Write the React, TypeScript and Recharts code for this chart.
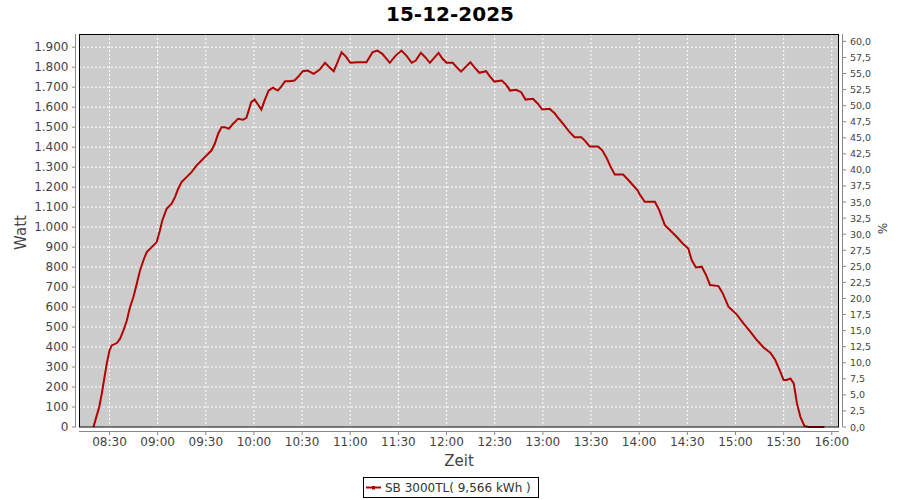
import React from "react"
import { LineChart, Line, XAxis, YAxis, CartesianGrid } from "recharts"

const title = "15-12-2025"
const seriesName = "SB 3000TL( 9,566 kWh )"

// time in minutes since midnight
const minutes = [
  500, 501.5, 503.6, 505.2, 506.9, 508.3, 510, 511.4, 514.6, 516.6, 518.7, 520.8, 522.8, 524.9, 527, 529,
  531.1, 533.2, 536.3, 539.4, 541.4, 542.9, 545.6, 548.7, 550.8, 552.8, 554.9, 558, 561.1, 564.2, 567.3,
  570.4, 573.5, 575.6, 577.7, 579.8, 581.8, 584.3, 587, 590.1, 593.2, 595.3, 596.7, 598.3, 600.4, 602.5,
  604.6, 606.6, 609.1, 611.8, 614.9, 617, 619.4, 622.1, 625.2, 627.7, 630.4, 633.5, 637.2, 640.8, 644.3,
  647, 649.7, 652.1, 654.6, 657.3, 660, 664.6, 670.1, 673.9, 676.9, 680, 684.6, 688.3, 691.9, 695, 698.3,
  700.8, 704, 706.7, 709.6, 712.3, 715, 717.5, 720, 723.8, 726.3, 729, 732.1, 734.8, 737.3, 740.4, 744.6,
  747.1, 749.8, 754.4, 757.1, 759.6, 763.3, 766.5, 769.2, 773.8, 776.9, 779.6, 784.2, 787.3, 790, 793.5,
  796.7, 799.8, 804, 806.7, 809.2, 814.4, 817.1, 819.8, 822, 824.8, 830, 833.1, 836.3, 839.4, 840, 843.5,
  849.8, 852.5, 856, 860.2, 863.8, 867.1, 870.6, 872.7, 875.4, 879, 881.7, 884.2, 889.4, 892.1, 895.6,
  900.6, 905, 909.2, 913.3, 917.5, 921.7, 924.8, 927.9, 930, 932.1, 934.2, 936.3, 938.3, 940.4, 942.9,
  945.6, 955.4,
]
const watts = [
  0, 42, 100, 167, 250, 317, 383, 408, 420, 442, 483, 533, 600, 650, 717, 783,
  833, 875, 900, 925, 983, 1033, 1092, 1117, 1150, 1192, 1225, 1250, 1275, 1308, 1333,
  1358, 1383, 1417, 1467, 1500, 1500, 1492, 1517, 1542, 1537, 1547, 1583, 1625, 1638, 1613,
  1588, 1633, 1683, 1697, 1683, 1703, 1730, 1730, 1733, 1753, 1780, 1783, 1767, 1787, 1822,
  1800, 1780, 1825, 1875, 1853, 1822, 1825, 1825, 1875, 1883, 1867, 1822, 1858, 1883, 1858, 1822,
  1833, 1872, 1850, 1822, 1847, 1872, 1842, 1822, 1822, 1800, 1778, 1803, 1825, 1800, 1772, 1780,
  1753, 1728, 1733, 1713, 1683, 1687, 1675, 1638, 1642, 1617, 1588, 1592, 1570, 1542, 1508,
  1475, 1450, 1450, 1428, 1403, 1403, 1383, 1345, 1305, 1263, 1263, 1237, 1208, 1180, 1168, 1127,
  1127, 1085, 1010, 977, 948, 918, 893, 835, 798, 802, 760, 710, 705, 668, 602,
  565, 518, 477, 435, 398, 372, 335, 277, 235, 235, 243, 218, 118, 52, 5,
  0, 0,
]

const timeTicks = [
  "08:30", "09:00", "09:30", "10:00", "10:30", "11:00", "11:30", "12:00",
  "12:30", "13:00", "13:30", "14:00", "14:30", "15:00", "15:30", "16:00",
]
const wattTicks = [0, 100, 200, 300, 400, 500, 600, 700, 800, 900, 1000, 1100, 1200, 1300, 1400, 1500, 1600, 1700, 1800, 1900]
const percentTicks = [
  0, 2.5, 5, 7.5, 10, 12.5, 15, 17.5, 20, 22.5, 25, 27.5, 30, 32.5, 35, 37.5, 40, 42.5, 45, 47.5, 50, 52.5, 55, 57.5, 60,
]

const toMinutes = (s: string) => {
  const [h, m] = s.split(":").map(Number)
  return h * 60 + m
}
const fromMinutes = (v: number) => {
  const h = Math.floor(v / 60)
  const m = Math.round(v % 60)
  return `${String(h).padStart(2, "0")}:${String(m).padStart(2, "0")}`
}
const fmtWatt = (v: number) =>
  v >= 1000 ? `${Math.floor(v / 1000)}.${String(v % 1000).padStart(3, "0")}` : String(v)
const fmtPct = (v: number) => v.toFixed(1).replace(".", ",")

// the percent axis has no values of its own on this day
const data = minutes.map((t, i) => ({ t, w: watts[i], pct: null }))

const W = 900
const H = 500
const plot = { left: 79, top: 34, right: 839, bottom: 427 }
const font = "'DejaVu Sans', sans-serif"
const axisColor = "#888"
const textColor = "#444"
const red = "#b40000"

function TimeTick({ x, y, payload }: any) {
  return (
    <g>
      <line x1={x} x2={x} y1={y + 4} y2={y + 8} stroke={axisColor} />
      <text x={x} y={y + 19} textAnchor="middle" fill={textColor} fontSize={12} fontFamily={font}>
        {fromMinutes(payload.value)}
      </text>
    </g>
  )
}

function WattTick({ x, y, payload }: any) {
  return (
    <g>
      <line x1={x - 7} x2={x - 3} y1={y} y2={y} stroke={axisColor} />
      <text x={x - 10.5} y={y + 4.3} textAnchor="end" fill={textColor} fontSize={12} fontFamily={font}>
        {fmtWatt(payload.value)}
      </text>
    </g>
  )
}

function PctTick({ x, y, payload }: any) {
  return (
    <g>
      <line x1={x + 4} x2={x + 7} y1={y} y2={y} stroke={axisColor} />
      <text x={x + 11} y={y + 3.5} textAnchor="start" fill={textColor} fontSize={9.5} fontFamily={font}>
        {fmtPct(payload.value)}
      </text>
    </g>
  )
}

export default function App() {
  return (
    <div style={{ position: "absolute", left: 0, top: 0, width: W, height: H, background: "#fff" }}>
      <LineChart
        width={W}
        height={H}
        data={data}
        margin={{ top: plot.top, right: 0, bottom: 0, left: 0 }}
      >
        <CartesianGrid fill="#cccccc" fillOpacity={1} stroke="#fff" strokeDasharray="2 2" />
        <XAxis
          dataKey="t"
          type="number"
          domain={[491, 964.5]}
          ticks={timeTicks.map(toMinutes)}
          interval={0}
          height={H - plot.bottom}
          axisLine={false}
          tickLine={false}
          tickSize={0}
          tickMargin={0}
          tick={<TimeTick />}
        />
        <YAxis
          domain={[0, 1966]}
          ticks={wattTicks}
          interval={0}
          width={plot.left}
          axisLine={false}
          tickLine={false}
          tickSize={0}
          tickMargin={0}
          tick={<WattTick />}
        />
        <YAxis
          yAxisId="pct"
          orientation="right"
          type="number"
          domain={[0, 61.15]}
          allowDataOverflow
          ticks={percentTicks}
          interval={0}
          width={W - plot.right}
          axisLine={false}
          tickLine={false}
          tickSize={0}
          tickMargin={0}
          tick={<PctTick />}
        />
        <Line
          type="linear"
          dataKey="w"
          stroke={red}
          strokeWidth={2}
          dot={false}
          activeDot={false}
          isAnimationActive={false}
        />
        <Line
          yAxisId="pct"
          type="linear"
          dataKey="pct"
          stroke="none"
          dot={false}
          activeDot={false}
          legendType="none"
          isAnimationActive={false}
        />
      </LineChart>

      <svg
        width={W}
        height={H}
        style={{ position: "absolute", left: 0, top: 0, pointerEvents: "none" }}
        fontFamily={font}
      >
        <text x={W / 2} y={21} textAnchor="middle" fontSize={20} fontWeight="bold" fill="#000">
          {title}
        </text>
        <rect
          x={plot.left + 0.5}
          y={plot.top + 0.5}
          width={plot.right - plot.left - 1}
          height={plot.bottom - plot.top - 0.5}
          fill="none"
          stroke="#000"
        />
        {/* axes sit a few px away from the plot, like JFreeChart */}
        <line x1={plot.left - 3.5} x2={plot.left - 3.5} y1={plot.top} y2={plot.bottom} stroke={axisColor} />
        <line x1={plot.right + 3.5} x2={plot.right + 3.5} y1={plot.top} y2={plot.bottom} stroke={axisColor} />
        <line x1={plot.left} x2={plot.right} y1={plot.bottom + 4.5} y2={plot.bottom + 4.5} stroke={axisColor} />

        <text
          x={21}
          y={(plot.top + plot.bottom) / 2 + 2}
          transform={`rotate(-90 21 ${(plot.top + plot.bottom) / 2 + 2})`}
          textAnchor="middle"
          dominantBaseline="central"
          fontSize={15}
          fill={textColor}
        >
          Watt
        </text>
        <text x={(plot.left + plot.right) / 2} y={465.5} textAnchor="middle" fontSize={15} fill={textColor}>
          Zeit
        </text>
        <text
          x={882}
          y={(plot.top + plot.bottom) / 2 - 2}
          transform={`rotate(90 882 ${(plot.top + plot.bottom) / 2 - 2})`}
          textAnchor="middle"
          dominantBaseline="central"
          fontSize={12}
          fill={textColor}
        >
          %
        </text>

        <rect x={363.5} y={477.5} width={175} height={20} fill="#fff" stroke="#000" />
        <line x1={366} x2={381} y1={487.5} y2={487.5} stroke={red} strokeWidth={2} />
        <rect x={372} y={486} width={3} height={3.5} fill={red} />
        <text x={385} y={491.5} fontSize={12} fill="#333">
          {seriesName}
        </text>
      </svg>
    </div>
  )
}
